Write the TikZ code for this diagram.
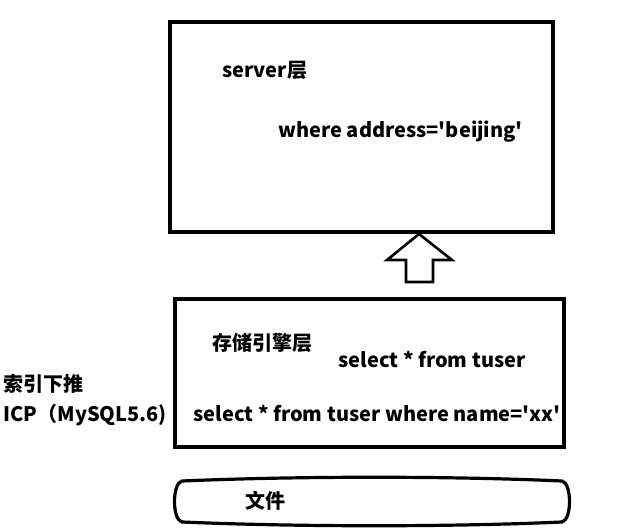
\documentclass[tikz,border=0pt]{standalone}
\usepackage{fontspec}
\setmainfont{Noto Sans CJK SC}[Ligatures=TeXOff]
\begin{document}
\begin{tikzpicture}[
  x=0.5pt, y=-0.5pt,
  layer/.style={draw, line width=1.6pt},
  txt/.style={font=\bfseries\fontsize{10}{12}\selectfont, inner sep=0pt, anchor=base west}
]
\useasboundingbox (0,0) rectangle (620,528);

% server layer
\draw[layer] (170,22) rectangle (553,232);
\node[txt] (srv) at (222,78) {server层};
\node[txt] (cond) at (278,138) {where address='beijing'};

% block arrow up
\draw[line width=1.3pt, line join=miter] (406,282) -- (433,282) -- (433,260) -- (452,260)
  -- (419,234) -- (387,260) -- (406,260) -- cycle;

% storage engine layer
\draw[layer] (175,299) rectangle (564,447);
\node[txt] (eng) at (212,351) {存储引擎层};
\node[txt] (sel) at (338,368) {select * from tuser};
\node[txt] (selw) at (193,422) {select * from tuser where name='xx'};

% left notes
\node[txt] (icp) at (3,392) {索引下推};
\node[txt] (ver) at (3,422) {ICP（MySQL5.6)};

% file
\draw[layer] (182,481) .. controls (300,476) and (450,476) .. (562,481)
  .. controls (572,483) and (572,520) .. (562,522)
  .. controls (450,527) and (300,527) .. (182,522)
  .. controls (172,520) and (172,483) .. cycle;
\node[txt] (file) at (245,508) {文件};
\end{tikzpicture}
\end{document}
